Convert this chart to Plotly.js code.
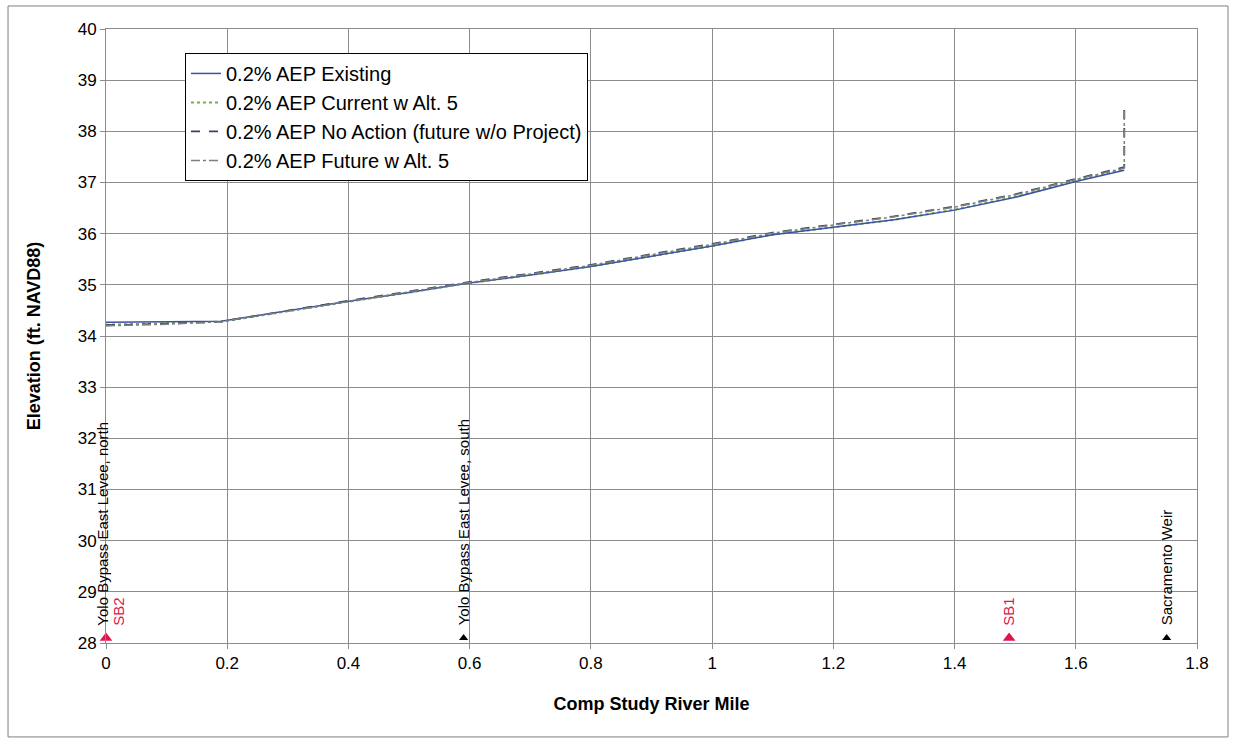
<!DOCTYPE html>
<html><head><meta charset="utf-8">
<script src="https://cdn.plot.ly/plotly-3.0.1.min.js"></script>
<style>body{margin:0;background:#fff}#c{width:1233px;height:742px}</style>
</head><body><div id="c"></div>
<script>
const riverMile = [0, 0.05, 0.1, 0.19, 0.3, 0.4, 0.5, 0.59, 0.7, 0.8, 0.9, 1.0, 1.1, 1.2, 1.3, 1.4, 1.5, 1.6, 1.68, 1.68];
const existing   = [34.27, 34.27, 34.28, 34.29, 34.50, 34.68, 34.85, 35.02, 35.19, 35.36, 35.56, 35.76, 35.98, 36.12, 36.27, 36.46, 36.71, 37.02, 37.24, 37.24];
const currentAlt5 = [34.22, 34.23, 34.25, 34.28, 34.49, 34.67, 34.85, 35.02, 35.19, 35.36, 35.56, 35.76, 35.98, 36.12, 36.27, 36.47, 36.72, 37.03, 37.26, 37.26];
const noAction   = [34.21, 34.22, 34.24, 34.28, 34.50, 34.69, 34.87, 35.04, 35.22, 35.39, 35.60, 35.80, 36.02, 36.18, 36.34, 36.53, 36.77, 37.07, 37.30, 38.50];
const futureAlt5 = [34.20, 34.21, 34.23, 34.28, 34.49, 34.68, 34.86, 35.03, 35.21, 35.38, 35.59, 35.79, 36.01, 36.17, 36.33, 36.52, 36.76, 37.06, 37.28, 38.45];

const seriesNames = ["0.2% AEP Existing", "0.2% AEP Current w Alt. 5", "0.2% AEP No Action (future w/o Project)", "0.2% AEP Future w Alt. 5"];

const siteMiles  = [0, 0.59, 1.49, 1.75];
const siteLabels = ["Yolo Bypass East Levee, north", "Yolo Bypass East Levee, south", "", "Sacramento Weir"];
const gageMiles  = [0, 1.49];
const gageLabels = ["SB2", "SB1"];
const markerElev = 28.1;

const xTicks = [0, 0.2, 0.4, 0.6, 0.8, 1, 1.2, 1.4, 1.6, 1.8];
const yTicks = [28,29,30,31,32,33,34,35,36,37,38,39,40];

const font = "Liberation Sans, Arial, sans-serif";

const traces = [
  {x: riverMile, y: currentAlt5, name: seriesNames[1], mode: "lines", line: {color: "#6db33f", width: 2, dash: "dot"}, legendrank: 2},
  {x: riverMile, y: existing, name: seriesNames[0], mode: "lines", line: {color: "#3c52a6", width: 1.5}, legendrank: 1},
  {x: riverMile, y: noAction, name: seriesNames[2], mode: "lines", line: {color: "#38455f", width: 1.8, dash: "dash"}, legendrank: 3},
  {x: riverMile, y: futureAlt5, name: seriesNames[3], mode: "lines", line: {color: "#7f7f7f", width: 1.5, dash: "dashdot"}, legendrank: 4},
  {x: siteMiles.filter((m,i)=>siteLabels[i]!==""), y: siteMiles.filter((m,i)=>siteLabels[i]!=="").map(()=>markerElev),
   mode: "markers", showlegend: false, cliponaxis: false,
   marker: {symbol: "triangle-up", size: 8, color: "#000"}},
  {x: gageMiles, y: gageMiles.map(()=>markerElev), mode: "markers", showlegend: false, cliponaxis: false,
   marker: {symbol: "triangle-up", size: 11, color: "#e0144c"}}
];

const annotations = [];
siteMiles.forEach((m, i) => {
  if (!siteLabels[i]) return;
  annotations.push({x: m, y: 28.3, xref: "x", yref: "y", text: siteLabels[i], showarrow: false,
    textangle: -90, xanchor: "center", yanchor: "bottom", xshift: (m === 0 ? -3 : 0),
    font: {family: font, size: 15, color: "#000"}});
});
gageMiles.forEach((m, i) => {
  annotations.push({x: m, y: 28.3, xref: "x", yref: "y", text: gageLabels[i], showarrow: false,
    textangle: -90, xanchor: "center", yanchor: "bottom", xshift: (m === 0 ? 13 : 0),
    font: {family: font, size: 15, color: "#e0144c"}});
});

const layout = {
  width: 1233, height: 742,
  margin: {l: 106, r: 36, t: 29, b: 99},
  paper_bgcolor: "#fff", plot_bgcolor: "#fff",
  font: {family: font, size: 17, color: "#000"},
  xaxis: {range: [0, 1.8], tickvals: xTicks, ticktext: xTicks.map(String), showgrid: true, gridcolor: "#8c8c8c", gridwidth: 1,
          showline: true, linecolor: "#8c8c8c", mirror: true, zeroline: false, ticks: "outside", ticklen: 5, tickcolor: "#8c8c8c",
          tickfont: {family: font, size: 17},
          title: {text: "<b>Comp Study River Mile</b>", font: {family: font, size: 18}, standoff: 24}},
  yaxis: {range: [28, 40], tickvals: yTicks, showgrid: true, gridcolor: "#8c8c8c", gridwidth: 1,
          showline: true, linecolor: "#8c8c8c", mirror: true, zeroline: false, ticks: "outside", ticklen: 5, tickcolor: "#8c8c8c",
          tickfont: {family: font, size: 17},
          title: {text: "<b>Elevation (ft. NAVD88)</b>", font: {family: font, size: 18}, standoff: 32}},
  legend: {x: 0.0724, y: 0.961, xanchor: "left", yanchor: "top", bgcolor: "#fff", bordercolor: "#000", borderwidth: 1,
           font: {family: font, size: 20}, tracegroupgap: 0, traceorder: "normal"},
  annotations: annotations,
  shapes: [{type: "rect", xref: "paper", yref: "paper", x0: -0.0898, x1: 1.0284, y0: -0.153, y1: 1.0375,
            line: {color: "#7f7f7f", width: 1}}]
};

Plotly.newPlot("c", traces, layout, {displayModeBar: false});
</script></body></html>
